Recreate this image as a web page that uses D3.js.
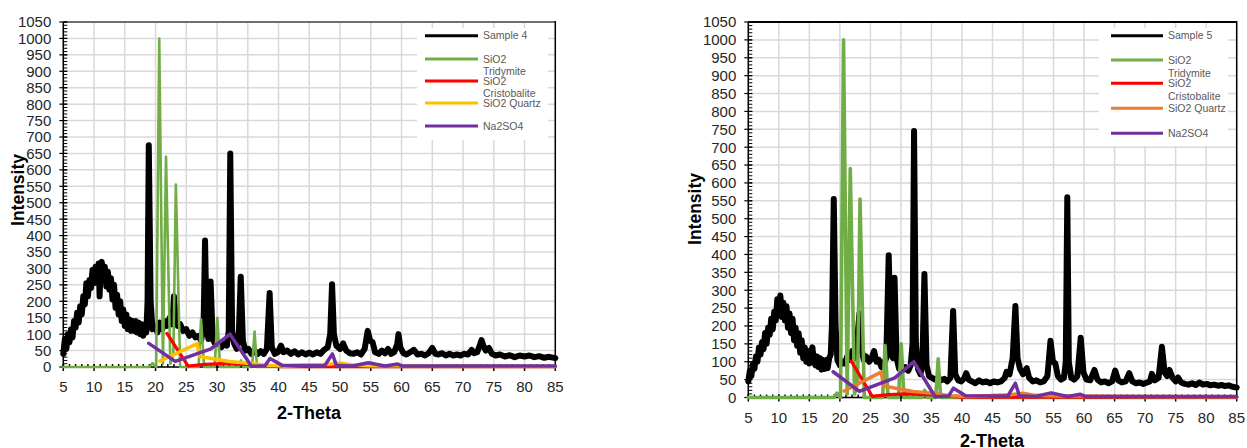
<!DOCTYPE html>
<html>
<head>
<meta charset="utf-8">
<script src="https://cdn.jsdelivr.net/npm/d3@7.9.0/dist/d3.min.js"></script>
<style>
  body { margin: 0; background: #fff; }
  svg { display: block; font-family: Arial, "Liberation Sans", sans-serif; }
</style>
</head>
<body>
<svg id="vis"></svg>
<script>
const width = 1247;
const height = 448;

// --- data: [2-theta, intensity] ---
const sample4 = [[5,40],[5.25,85],[5.5,55],[5.75,100],[6,75],[6.25,115],[6.5,90],[6.75,140],[7,120],[7.25,165],[7.5,135],[7.75,185],[8,160],[8.25,215],[8.5,190],[8.75,255],[9,215],[9.25,265],[9.5,240],[9.75,295],[10,255],[10.25,305],[10.5,265],[10.75,315],[10.9,215],[11.05,290],[11.25,320],[11.5,270],[11.75,305],[12,245],[12.25,290],[12.5,235],[12.75,270],[13,205],[13.25,250],[13.5,180],[13.75,220],[14,160],[14.25,200],[14.5,140],[14.75,175],[15,125],[15.25,160],[15.5,115],[15.75,145],[16,110],[16.25,140],[16.5,110],[16.75,140],[17,105],[17.25,135],[17.5,100],[17.75,130],[18,95],[18.25,125],[18.5,105],[18.7,200],[18.9,675],[19.2,200],[19.5,115],[19.9,125],[20.3,105],[20.7,135],[21.1,115],[21.5,140],[21.9,125],[22.3,150],[22.7,130],[23,215],[23.3,150],[23.6,125],[24,130],[24.5,110],[25,115],[25.5,95],[26,105],[26.5,90],[27,95],[27.4,80],[27.8,120],[28.05,385],[28.3,120],[28.6,85],[28.95,260],[29.3,85],[29.7,70],[30.2,75],[30.7,60],[31.2,70],[31.6,65],[31.9,110],[32.15,650],[32.45,110],[32.8,70],[33.2,55],[33.5,80],[33.85,275],[34.2,80],[34.6,50],[35.1,55],[35.6,40],[36.1,50],[36.6,40],[37.1,48],[37.6,40],[38.1,55],[38.55,225],[38.9,60],[39.4,40],[39.9,45],[40.4,65],[40.8,45],[41.4,50],[42,40],[42.6,48],[43.2,38],[43.8,45],[44.4,38],[45,44],[45.6,38],[46.2,45],[46.8,40],[47.4,52],[48,60],[48.4,100],[48.7,252],[49,100],[49.4,65],[50,55],[50.5,72],[51,50],[51.6,42],[52.2,40],[52.8,45],[53.4,38],[54,55],[54.5,110],[54.9,80],[55.3,75],[55.7,45],[56.3,40],[56.8,50],[57.3,42],[57.8,55],[58.3,40],[58.8,45],[59.3,70],[59.5,100],[59.8,60],[60.3,42],[60.8,38],[61.4,45],[62,52],[62.6,38],[63.2,40],[63.8,35],[64.4,42],[65,58],[65.5,40],[66,38],[66.6,42],[67.2,35],[67.8,40],[68.4,35],[69,38],[69.6,35],[70.2,40],[70.8,38],[71.4,52],[71.8,42],[72.3,45],[72.8,70],[73,82],[73.3,65],[73.7,50],[74.2,58],[74.7,40],[75.3,35],[76,38],[76.8,32],[77.6,36],[78.4,30],[79.2,35],[80,32],[80.8,35],[81.6,30],[82.4,33],[83.2,28],[84,31],[85,27]];

const sample5 = [[5,45],[5.25,75],[5.5,60],[5.75,95],[6,80],[6.25,115],[6.5,100],[6.75,140],[7,120],[7.25,155],[7.5,135],[7.75,180],[8,150],[8.25,195],[8.5,175],[8.75,220],[9,190],[9.25,240],[9.5,215],[9.75,275],[10,235],[10.25,285],[10.5,225],[10.75,265],[11,215],[11.25,255],[11.5,195],[11.75,235],[12,180],[12.25,220],[12.5,160],[12.75,195],[13,145],[13.25,180],[13.5,125],[13.75,160],[14,110],[14.25,140],[14.5,100],[14.75,130],[15,95],[15.25,125],[15.5,140],[15.75,100],[16,90],[16.25,115],[16.5,85],[16.75,110],[17,78],[17.25,105],[17.5,80],[17.75,105],[18,82],[18.25,110],[18.5,120],[18.7,200],[19,555],[19.3,200],[19.6,105],[20,90],[20.4,100],[20.8,95],[21.2,115],[21.6,105],[22,130],[22.4,110],[22.8,150],[23.2,235],[23.5,140],[23.9,105],[24.3,115],[24.8,100],[25.2,110],[25.6,130],[26,100],[26.4,105],[26.8,85],[27.2,95],[27.6,110],[28,398],[28.4,120],[28.7,110],[28.95,335],[29.3,110],[29.7,80],[30.2,75],[30.7,85],[31.2,75],[31.6,90],[31.9,150],[32.15,745],[32.45,150],[32.8,80],[33.2,65],[33.5,90],[33.85,345],[34.2,90],[34.6,60],[35.1,55],[35.6,50],[36.1,55],[36.6,48],[37.1,52],[37.6,45],[38.1,55],[38.55,242],[38.9,65],[39.4,48],[39.9,45],[40.4,55],[40.7,68],[41.1,50],[41.6,45],[42.2,40],[42.8,48],[43.4,42],[44,45],[44.6,40],[45.2,45],[45.8,42],[46.4,45],[47,55],[47.3,72],[47.8,65],[48.3,110],[48.75,256],[49.1,110],[49.5,80],[50,65],[50.6,82],[51,55],[51.6,45],[52.2,48],[52.8,42],[53.4,45],[54,60],[54.5,159],[54.9,100],[55.3,95],[55.7,60],[56.2,50],[56.7,55],[57,100],[57.25,560],[57.5,100],[57.9,55],[58.4,50],[58.9,60],[59.45,167],[59.9,70],[60.4,50],[61,48],[61.7,77],[62.2,50],[62.8,42],[63.4,45],[64,40],[64.6,45],[65.1,75],[65.6,48],[66.2,42],[66.8,45],[67.4,68],[67.9,45],[68.5,40],[69.1,42],[69.7,38],[70.3,42],[70.8,45],[71.1,66],[71.6,48],[72.2,55],[72.75,142],[73.2,70],[73.6,60],[74,77],[74.5,55],[75,45],[75.4,56],[75.9,42],[76.5,38],[77.1,36],[77.7,40],[78.3,35],[78.9,42],[79.5,36],[80.1,38],[80.7,34],[81.3,36],[81.9,33],[82.5,35],[83.1,32],[83.7,34],[84.3,30],[85,28]];

const tridymite = [[5,0],[19,0],[19.5,12],[20.1,0],[20.6,1000],[21.2,10],[21.7,640],[22.4,10],[22.9,40],[23.3,555],[24,0],[27,0],[27.4,145],[27.9,0],[29.6,0],[30.05,150],[30.5,0],[33.5,0],[33.9,20],[34.3,0],[35.7,0],[36.1,108],[36.5,0],[85,0]];

const cristobalite = [[21.85,102],[25.3,3],[28,8],[31,10],[33,9],[36,7],[38,3],[40,1],[50,1],[85,1]];

const quartz = [[20.7,18],[26.75,71],[27.2,32],[32,17],[35.5,11],[38,5],[41,3],[48,8],[50,12],[52,6],[55,4],[60,4],[70,3],[85,2]];

const na2so4 = [[18.9,72],[23.2,17],[29,55],[32.1,100],[35.6,2],[37.8,4],[38.6,26],[40.6,5],[47.5,4],[48.75,40],[49.4,5],[52,3],[54.6,13],[57.3,3],[59.4,9],[60.2,3],[70,3],[85,3]];

const xTicks = d3.range(5, 86, 5);
const yTicks = d3.range(0, 1051, 50);

const legendNames4 = [["Sample 4"], ["SiO2", "Tridymite"], ["SiO2", "Cristobalite"], ["SiO2 Quartz"], ["Na2SO4"]];
const legendNames5 = [["Sample 5"], ["SiO2", "Tridymite"], ["SiO2", "Cristobalite"], ["SiO2 Quartz"], ["Na2SO4"]];

const svg = d3.select("#vis")
    .attr("width", width)
    .attr("height", height);

function drawChart(opt) {
    const g = svg.append("g");

    const x = d3.scaleLinear().domain([5, 85]).range([opt.left, opt.right]);
    const y = d3.scaleLinear().domain([0, 1050]).range([opt.bottom, opt.top]);

    // grid
    g.append("g").selectAll("line")
        .data(yTicks)
        .join("line")
        .attr("x1", opt.left).attr("x2", opt.right)
        .attr("y1", d => y(d)).attr("y2", d => y(d))
        .attr("stroke", "#d9d9d9").attr("stroke-width", 1.5);
    g.append("g").selectAll("line")
        .data(xTicks)
        .join("line")
        .attr("x1", d => x(d)).attr("x2", d => x(d))
        .attr("y1", opt.top).attr("y2", opt.bottom)
        .attr("stroke", "#d9d9d9").attr("stroke-width", 1.5);

    // frame top / right
    g.append("line")
        .attr("x1", opt.left).attr("x2", opt.right)
        .attr("y1", y(1050)).attr("y2", y(1050))
        .attr("stroke", opt.topColor).attr("stroke-width", 2);

    // legend box (white, behind the series)
    const lg = opt.legend;
    g.append("rect")
        .attr("x", lg.x0).attr("y", lg.y0)
        .attr("width", lg.x1 - lg.x0).attr("height", lg.y1 - lg.y0)
        .attr("fill", "#fff");

    g.append("line")
        .attr("x1", x(85)).attr("x2", x(85))
        .attr("y1", opt.top - 1).attr("y2", opt.bottom)
        .attr("stroke", "#000").attr("stroke-width", 1.5);

    // y axis with minor ticks
    const yAxis = g.append("g").attr("transform", `translate(${opt.left},0)`);
    yAxis.append("line")
        .attr("y1", opt.top).attr("y2", opt.bottom)
        .attr("stroke", "#000").attr("stroke-width", 1.5);
    yAxis.selectAll("line.minor")
        .data(d3.range(0, 1051, 10))
        .join("line").attr("class", "minor")
        .attr("x1", 0).attr("x2", 4)
        .attr("y1", d => y(d)).attr("y2", d => y(d))
        .attr("stroke", "#000").attr("stroke-width", 1);
    yAxis.selectAll("line.major")
        .data(yTicks)
        .join("line").attr("class", "major")
        .attr("x1", -4).attr("x2", 4)
        .attr("y1", d => y(d)).attr("y2", d => y(d))
        .attr("stroke", "#000").attr("stroke-width", 1.2);
    yAxis.selectAll("text")
        .data(yTicks)
        .join("text")
        .attr("x", -12)
        .attr("y", d => y(d))
        .attr("dy", "0.36em")
        .attr("text-anchor", "end")
        .attr("font-size", 15)
        .attr("fill", "#262626")
        .text(d => d);

    // x axis with minor ticks
    const xAxis = g.append("g").attr("transform", `translate(0,${opt.bottom})`);
    xAxis.append("line")
        .attr("x1", opt.left).attr("x2", opt.right)
        .attr("stroke", "#000").attr("stroke-width", 1.5);
    xAxis.selectAll("line.minor")
        .data(d3.range(5, 86, 1))
        .join("line").attr("class", "minor")
        .attr("x1", d => x(d)).attr("x2", d => x(d))
        .attr("y1", -3).attr("y2", 0)
        .attr("stroke", "#000").attr("stroke-width", 1.5);
    xAxis.selectAll("line.major")
        .data(xTicks)
        .join("line").attr("class", "major")
        .attr("x1", d => x(d)).attr("x2", d => x(d))
        .attr("y1", -3).attr("y2", 4)
        .attr("stroke", "#000").attr("stroke-width", 1.5);
    xAxis.selectAll("text")
        .data(xTicks)
        .join("text")
        .attr("x", d => x(d))
        .attr("y", 20)
        .attr("dy", "0.36em")
        .attr("text-anchor", "middle")
        .attr("font-size", 15)
        .attr("fill", "#262626")
        .text(d => d);

    // axis titles
    g.append("text")
        .attr("transform", `translate(${opt.yTitle[0]},${opt.yTitle[1]}) rotate(-90)`)
        .attr("text-anchor", "middle")
        .attr("dy", "0.35em")
        .attr("font-size", 17.5)
        .attr("font-weight", "bold")
        .attr("fill", "#000")
        .text("Intensity");
    g.append("text")
        .attr("x", opt.xTitle[0]).attr("y", opt.xTitle[1])
        .attr("text-anchor", "middle")
        .attr("dy", "0.35em")
        .attr("font-size", 18)
        .attr("font-weight", "bold")
        .attr("fill", "#000")
        .text("2-Theta");

    // series
    const line = d3.line().x(d => x(d[0])).y(d => y(d[1]));
    const series = [
        { data: opt.sample, color: "#000000", w: 6 },
        { data: tridymite, color: "#70ad47", w: opt.greenW },
        { data: cristobalite, color: "#ff0000", w: 3.2 },
        { data: quartz, color: opt.quartzColor, w: 3.5 },
        { data: na2so4, color: "#7030a0", w: 3.5 }
    ];
    g.append("g").selectAll("path")
        .data(series)
        .join("path")
        .attr("d", d => line(d.data))
        .attr("fill", "none")
        .attr("stroke", d => d.color)
        .attr("stroke-width", d => d.w)
        .attr("stroke-linejoin", "round")
        .attr("stroke-linecap", "round");

    // legend entries
    const ent = g.append("g").selectAll("g")
        .data(series.map((s, i) => ({ color: s.color, names: opt.names[i], ly: lg.rows[i] })))
        .join("g");
    ent.append("line")
        .attr("x1", lg.lineX0).attr("x2", lg.lineX1)
        .attr("y1", d => d.ly).attr("y2", d => d.ly)
        .attr("stroke", d => d.color)
        .attr("stroke-width", 3);
    ent.each(function (d) {
        d3.select(this).selectAll("text")
            .data(d.names)
            .join("text")
            .attr("x", lg.lineX1 + 5)
            .attr("y", (t, j) => d.ly + j * lg.lineGap)
            .attr("dy", "0.35em")
            .attr("font-size", 10.5)
            .attr("fill", "#595959")
            .text(t => t);
    });
}

drawChart({
    left: 63.3, right: 555.3, top: 22, bottom: 367,
    topColor: "#6e6e6e",
    sample: sample4,
    names: legendNames4,
    quartzColor: "#ffc000",
    greenW: 2.6,
    yTitle: [18, 190],
    xTitle: [309, 413],
    legend: { x0: 417, x1: 548, y0: 28, y1: 140, lineX0: 425, lineX1: 478, rows: [35.7, 59, 81, 103, 126], lineGap: 12.5 }
});

drawChart({
    left: 748.3, right: 1236.7, top: 22, bottom: 397.5,
    topColor: "#000",
    sample: sample5,
    names: legendNames5,
    quartzColor: "#ed7d31",
    greenW: 3.6,
    yTitle: [695, 209],
    xTitle: [992, 441],
    legend: { x0: 1099, x1: 1228, y0: 28, y1: 146, lineX0: 1111, lineX1: 1163, rows: [35.7, 60, 83.3, 108.3, 133.3], lineGap: 13 }
});
</script>
</body>
</html>
